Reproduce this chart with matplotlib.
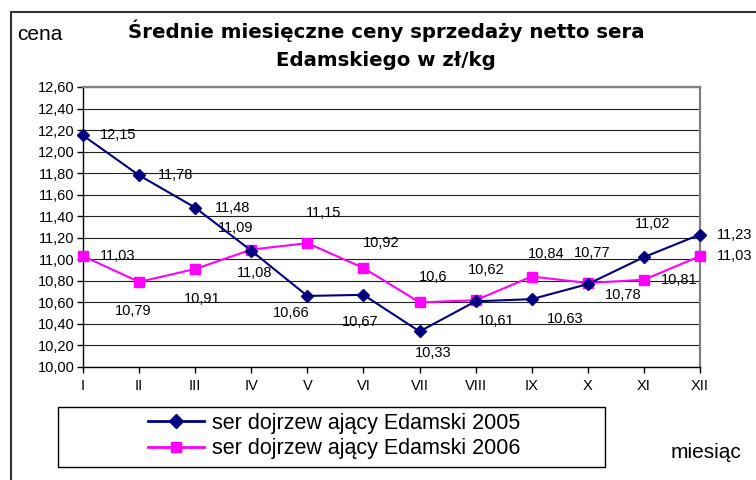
import matplotlib
matplotlib.use("Agg")
import matplotlib.pyplot as plt
from matplotlib.patches import Rectangle
from matplotlib.lines import Line2D
from matplotlib.ticker import FuncFormatter

plt.rcParams['font.family'] = ['Liberation Sans', 'DejaVu Sans']

months = ["I", "II", "III", "IV", "V", "VI", "VII", "VIII", "IX", "X", "XI", "XII"]
ser_2005 = [12.15, 11.78, 11.48, 11.08, 10.66, 10.67, 10.33, 10.61, 10.63, 10.77, 11.02, 11.23]
ser_2006 = [11.03, 10.79, 10.91, 11.09, 11.15, 10.92, 10.6, 10.62, 10.84, 10.78, 10.81, 11.03]
labels_2005 = ["12,15", "11,78", "11,48", "11,08", "10,66", "10,67", "10,33", "10,61", "10,63", "10,77", "11,02", "11,23"]
labels_2006 = ["11,03", "10,79", "10,91", "11,09", "11,15", "10,92", "10,6", "10,62", "10,84", "10,78", "10,81", "11,03"]
series_names = ["ser dojrzew ający Edamski 2005", "ser dojrzew ający Edamski 2006"]
y_ticks = [10.0 + 0.2 * i for i in range(14)]

# label offsets in pixels (dx right, dy down)
off_2005 = [(35, 0), (36, 0), (37, 0), (3, 22), (-16, 17), (-3, 27), (14, 22), (21, 20), (33, 20), (4, -31), (9, -33), (35, 0)]
off_2006 = [(35, 0), (-6, 29), (7, 30), (-16, -22), (16, -30), (18, -25), (14, -25), (11, -30), (14, -23), (35, 12), (35, 0), (35, 0)]

W, H = 756, 480
fig = plt.figure(figsize=(W / 100, H / 100), dpi=100)
L, R, T, B = 83, 700, 87, 367
ax = fig.add_axes([L / W, 1 - B / H, (R - L) / W, (B - T) / H])

x = list(range(len(months)))
navy = "#000080"
mag = "#FF00FF"
ax.plot(x, ser_2005, color=navy, lw=1.5, marker="D", ms=6, mec=navy, mfc=navy, zorder=4, clip_on=False)
ax.plot(x, ser_2006, color=mag, lw=1.5, marker="s", ms=7.5, mec=mag, mfc=mag, zorder=3, clip_on=False)

for xi, v, lab, (dx, dy) in zip(x, ser_2005, labels_2005, off_2005):
    ax.annotate(lab, (xi, v), xytext=(dx, -dy), textcoords="offset pixels",
                ha="center", va="center", fontsize=10.5, color="black", annotation_clip=False)
for xi, v, lab, (dx, dy) in zip(x, ser_2006, labels_2006, off_2006):
    ax.annotate(lab, (xi, v), xytext=(dx, -dy), textcoords="offset pixels",
                ha="center", va="center", fontsize=10.5, color="black", annotation_clip=False)

ax.set_xlim(0, 11)
ax.set_ylim(10.0, 12.6)
ax.set_xticks(x)
ax.set_xticklabels(months)
ax.set_yticks(y_ticks)
ax.yaxis.set_major_formatter(FuncFormatter(lambda v, p: f"{v:.2f}".replace(".", ",")))
ax.tick_params(axis="both", direction="out", length=4, width=1, color="black", labelsize=10.5, pad=2)
ax.tick_params(axis="x", pad=5)
ax.grid(axis="y", color="#202020", lw=0.8)
ax.set_axisbelow(True)
for s in ["top", "right"]:
    ax.spines[s].set_color("#808080")
    ax.spines[s].set_linewidth(1.6)
for s in ["left", "bottom"]:
    ax.spines[s].set_color("black")
    ax.spines[s].set_linewidth(1.0)

# outer chart border
fig.add_artist(Rectangle((11 / W, -0.2), 2, 1 - 12 / H + 0.2, transform=fig.transFigure,
                         fill=False, ec="#333333", lw=1.5))

title_font = dict(family=["DejaVu Sans"], fontsize=14.2, fontweight="bold")
fig.text(386 / W, 1 - 31 / H, "Średnie miesięczne ceny sprzedaży netto sera", ha="center", va="center",
         **title_font)
fig.text(386 / W, 1 - 61 / H, "Edamskiego w zł/kg", ha="center", va="center", **title_font)
fig.text(17 / W, 1 - 35 / H, "cena", ha="left", va="center", fontsize=15)
fig.text(706 / W, 1 - 452 / H, "miesiąc", ha="center", va="center", fontsize=15)

# legend
fig.add_artist(Rectangle((58 / W, 1 - 467 / H), (605 - 58) / W, (467 - 407) / H, transform=fig.transFigure,
                         fill=False, ec="black", lw=1.0))
handles = [Line2D([], [], color=navy, lw=2, marker="D", ms=7, mfc=navy, mec=navy),
           Line2D([], [], color=mag, lw=2, marker="s", ms=7, mfc=mag, mec=mag)]
fig.legend(handles, series_names, loc="center", bbox_to_anchor=(334 / W, 1 - 436 / H),
           frameon=False, fontsize=15.5, handlelength=2.6, handletextpad=0.35, labelspacing=0.2,
           borderpad=0)

fig.savefig("out.png", dpi=100)
